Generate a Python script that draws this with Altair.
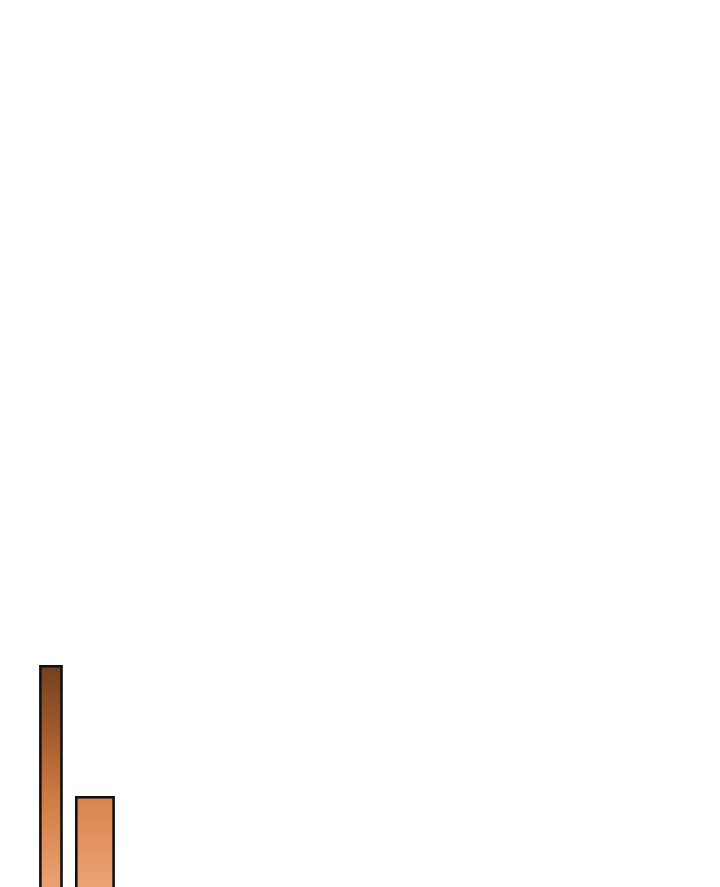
import altair as alt
import pandas as pd

categories = ["A", "B"]
x_start = [4.6, 9.7]
x_end = [7.6, 15.0]
values = [28.2, 13.8]

df = pd.DataFrame({"cat": categories, "x0": x_start, "x1": x_end, "v": values, "base": [0, 0]})

grad1 = alt.Gradient(
    gradient="linear", x1=0, y1=0, x2=0, y2=1,
    stops=[
        alt.GradientStop(color="#744020", offset=0),
        alt.GradientStop(color="#a65c2c", offset=0.27),
        alt.GradientStop(color="#d07c44", offset=0.52),
        alt.GradientStop(color="#eba06e", offset=0.84),
        alt.GradientStop(color="#f0aa7c", offset=1),
    ],
)
grad2 = alt.Gradient(
    gradient="linear", x1=0, y1=0, x2=0, y2=1,
    stops=[
        alt.GradientStop(color="#d8844c", offset=0),
        alt.GradientStop(color="#eca272", offset=0.68),
        alt.GradientStop(color="#f1ad80", offset=1),
    ],
)

xs = alt.Scale(domain=[0, 100])
ys = alt.Scale(domain=[0, 100])

def bars(cat, grad):
    return alt.Chart(df).transform_filter(alt.datum.cat == cat).mark_bar(
        fill=grad, stroke="#111111", strokeWidth=2.6, cornerRadius=0
    ).encode(
        x=alt.X("x0:Q", scale=xs, axis=None),
        x2="x1:Q",
        y=alt.Y("v:Q", scale=ys, axis=None),
        y2="base:Q",
    )

chart = alt.layer(bars("A", grad1), bars("B", grad2)).properties(
    width=712, height=920, padding=0, autosize=alt.AutoSizeParams(type="none"),
).configure_view(stroke=None)

chart.save("out.html", embed_options={"renderer": "svg", "actions": False})
